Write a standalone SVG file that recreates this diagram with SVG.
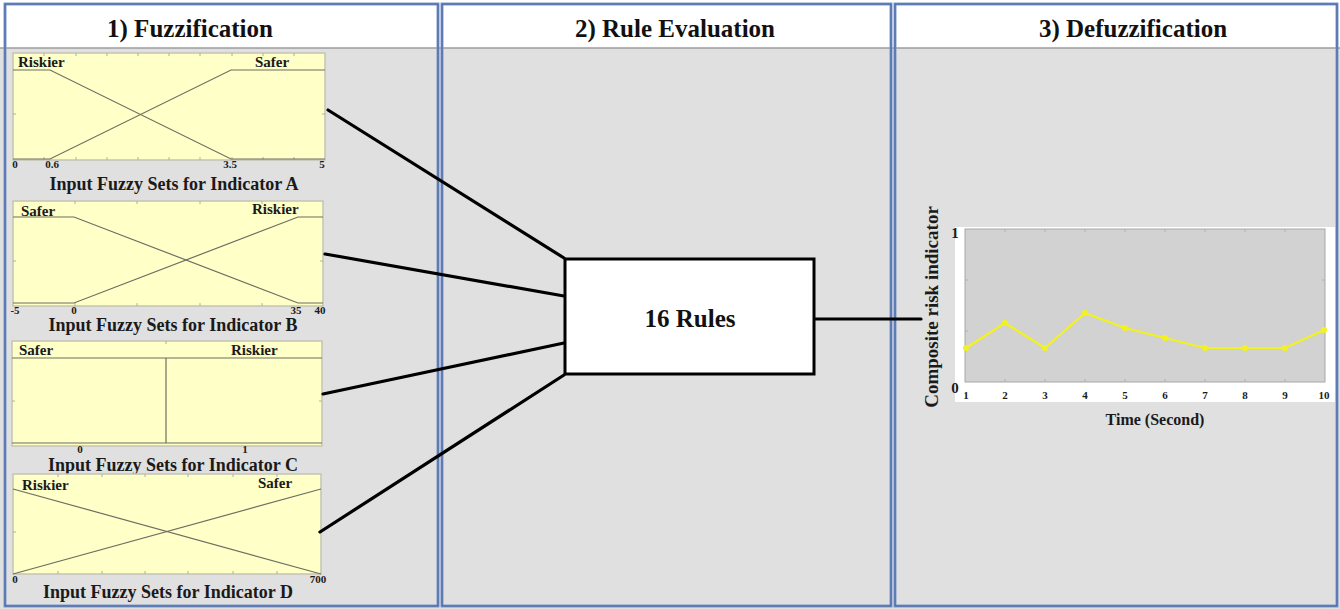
<svg xmlns="http://www.w3.org/2000/svg" width="1340" height="609" viewBox="0 0 1340 609">
  <style>
    .hdr { font-family: "Liberation Serif", "DejaVu Serif", serif; font-weight: bold; font-size: 25px; fill: #111; text-anchor: middle; }
    .cap { font-family: "Liberation Serif", "DejaVu Serif", serif; font-weight: bold; font-size: 18px; fill: #1a1a1a; text-anchor: middle; }
    .set { font-family: "Liberation Serif", "DejaVu Serif", serif; font-weight: bold; font-size: 15px; fill: #1a1a1a; }
    .tick { font-family: "Liberation Serif", "DejaVu Serif", serif; font-weight: bold; font-size: 11px; fill: #1a1a1a; text-anchor: middle; }
    .plot { fill: #ffffc8; stroke: #c4c4b4; stroke-width: 1.5; }
    .mf { fill: none; stroke: #6e6e62; stroke-width: 1.2; }
    .tk { stroke: #b0b0a0; stroke-width: 1; }
    .panel { fill: none; stroke: #7f9acb; stroke-width: 3; }
    .panelIn { fill: none; stroke: #3f5f9c; stroke-width: 1; }
    .wire { stroke: #000; stroke-width: 3.2; fill: none; stroke-linecap: round; }
  </style>

  <!-- page background: white header strip, grey body -->
  <rect x="0" y="0" width="1340" height="609" fill="#ffffff"/>
  <rect x="0" y="48" width="1340" height="561" fill="#e0e0e0"/>
  <line x1="0" y1="48" x2="1340" y2="48" stroke="#9c9c9c" stroke-width="1.5"/>

  <!-- stage panels -->
  <g id="panels">
    <rect class="panel" x="5" y="4" width="433" height="602"/>
    <rect class="panelIn" x="5" y="4" width="433" height="602"/>
    <rect class="panel" x="442" y="4" width="449" height="602"/>
    <rect class="panelIn" x="442" y="4" width="449" height="602"/>
    <rect class="panel" x="895" y="4" width="442" height="602"/>
    <rect class="panelIn" x="895" y="4" width="442" height="602"/>
    <text class="hdr" x="190" y="37">1) Fuzzification</text>
    <text class="hdr" x="675" y="37">2) Rule Evaluation</text>
    <text class="hdr" x="1133" y="37">3) Defuzzification</text>
  </g>

  <!-- Indicator A -->
  <g id="setA">
    <rect class="plot" x="13" y="53" width="312" height="107"/>
    <path class="tk" d="M44 53v3M76 53v3M107 53v3M138 53v3M169 53v3M200 53v3M232 53v3M263 53v3M294 53v3M44 160v-3M76 160v-3M107 160v-3M138 160v-3M169 160v-3M200 160v-3M232 160v-3M263 160v-3M294 160v-3M13 114h3M325 114h-3"/>
    <polyline class="mf" points="13,70 50,70 231,159 325,159"/>
    <polyline class="mf" points="13,159 50,159 231,70 325,70"/>
    <text class="set" x="18" y="67">Riskier</text>
    <text class="set" x="255" y="67">Safer</text>
    <text class="tick" x="15" y="168">0</text>
    <text class="tick" x="52" y="168">0.6</text>
    <text class="tick" x="230" y="168">3.5</text>
    <text class="tick" x="322" y="168">5</text>
    <text class="cap" x="174" y="190">Input Fuzzy Sets for Indicator A</text>
  </g>

  <!-- Indicator B -->
  <g id="setB">
    <rect class="plot" x="13" y="201" width="310" height="105"/>
    <path class="tk" d="M75 201v3M137 201v3M200 201v3M262 201v3M75 306v-3M137 306v-3M200 306v-3M262 306v-3M13 261h3M323 261h-3"/>
    <polyline class="mf" points="13,217 74,217 298,303 323,303"/>
    <polyline class="mf" points="13,303 74,303 298,217 323,217"/>
    <text class="set" x="21" y="216">Safer</text>
    <text class="set" x="252" y="214">Riskier</text>
    <text class="tick" x="15" y="314">-5</text>
    <text class="tick" x="74" y="314">0</text>
    <text class="tick" x="296" y="314">35</text>
    <text class="tick" x="320" y="314">40</text>
    <text class="cap" x="173" y="331">Input Fuzzy Sets for Indicator B</text>
  </g>

  <!-- Indicator C -->
  <g id="setC">
    <rect class="plot" x="12" y="341" width="310" height="105"/>
    <path class="tk" d="M166 341v3M12 401h3M322 401h-3"/>
    <polyline class="mf" points="12,358 322,358"/>
    <polyline class="mf" points="166,358 166,443"/>
    <polyline class="mf" points="12,443 322,443"/>
    <text class="set" x="19" y="355">Safer</text>
    <text class="set" x="231" y="355">Riskier</text>
    <text class="tick" x="80" y="453" font-size="10">0</text>
    <text class="tick" x="245" y="453" font-size="10">1</text>
    <text class="cap" x="173" y="471">Input Fuzzy Sets for Indicator C</text>
  </g>

  <!-- Indicator D -->
  <g id="setD">
    <rect class="plot" x="13" y="474" width="308" height="100"/>
    <path class="tk" d="M58 474v3M102 474v3M145 474v3M188 474v3M233 474v3M277 474v3M58 574v-3M102 574v-3M145 574v-3M188 574v-3M233 574v-3M277 574v-3M13 532h3M321 532h-3"/>
    <line class="mf" x1="13" y1="489" x2="321" y2="574"/>
    <line class="mf" x1="13" y1="574" x2="321" y2="489"/>
    <text class="set" x="22" y="490">Riskier</text>
    <text class="set" x="258" y="488">Safer</text>
    <text class="tick" x="15" y="583">0</text>
    <text class="tick" x="318" y="583">700</text>
    <text class="cap" x="168" y="598">Input Fuzzy Sets for Indicator D</text>
  </g>

  <!-- connectors -->
  <g id="connectors">
    <line class="wire" x1="328" y1="110" x2="564" y2="258"/>
    <line class="wire" x1="325" y1="254" x2="564" y2="296"/>
    <line class="wire" x1="323" y1="394" x2="564" y2="343"/>
    <line class="wire" x1="320" y1="532" x2="564" y2="375"/>
    <line class="wire" x1="815" y1="319" x2="921" y2="319"/>
  </g>

  <!-- rule base -->
  <g id="rules">
    <rect x="565" y="259" width="249" height="115" fill="#ffffff" stroke="#000" stroke-width="3"/>
    <text x="690" y="327" font-family="Liberation Serif, DejaVu Serif, serif" font-weight="bold" font-size="25" fill="#111" text-anchor="middle">16 Rules</text>
  </g>

  <!-- composite output chart -->
  <g id="output">
    <rect x="955" y="227" width="380" height="175" fill="#ffffff"/>
    <rect x="965" y="229" width="360" height="153" fill="#d2d2d2" stroke="#a8a8a8" stroke-width="1"/>
    <path class="tk" stroke="#8a8a8a" d="M1005 229v3M1045 229v3M1085 229v3M1125 229v3M1165 229v3M1205 229v3M1245 229v3M1285 229v3M1005 382v-3M1045 382v-3M1085 382v-3M1125 382v-3M1165 382v-3M1205 382v-3M1245 382v-3M1285 382v-3M1325 280h-3M1325 331h-3M965 280h3M965 331h3"/>
    <polyline points="966,348 1005,323 1045,348 1085,313 1125,328 1165,338 1205,348 1245,348 1285,348 1324,330" fill="none" stroke="#f2f21e" stroke-width="2.2"/>
    <g fill="#f2f21e">
      <circle cx="966" cy="348" r="3"/>
      <circle cx="1005" cy="323" r="3"/>
      <circle cx="1045" cy="348" r="3"/>
      <circle cx="1085" cy="313" r="3"/>
      <circle cx="1125" cy="328" r="3"/>
      <circle cx="1165" cy="338" r="3"/>
      <circle cx="1205" cy="348" r="3"/>
      <circle cx="1245" cy="348" r="3"/>
      <circle cx="1285" cy="348" r="3"/>
      <circle cx="1324" cy="330" r="3"/>
    </g>
    <text class="set" x="955" y="238" text-anchor="middle">1</text>
    <text class="set" x="955" y="393" text-anchor="middle">0</text>
    <g class="tick" fill="#333">
      <text x="966" y="399">1</text>
      <text x="1005" y="399">2</text>
      <text x="1045" y="399">3</text>
      <text x="1085" y="399">4</text>
      <text x="1125" y="399">5</text>
      <text x="1165" y="399">6</text>
      <text x="1205" y="399">7</text>
      <text x="1245" y="399">8</text>
      <text x="1285" y="399">9</text>
      <text x="1324" y="399">10</text>
    </g>
    <text x="0" y="0" transform="translate(938,307) rotate(-90)" font-family="Liberation Serif, DejaVu Serif, serif" font-weight="bold" font-size="19" fill="#1a1a1a" text-anchor="middle">Composite risk indicator</text>
    <text x="1155" y="425" font-family="Liberation Serif, DejaVu Serif, serif" font-weight="bold" font-size="16" fill="#1a1a1a" text-anchor="middle">Time (Second)</text>
  </g>
</svg>
